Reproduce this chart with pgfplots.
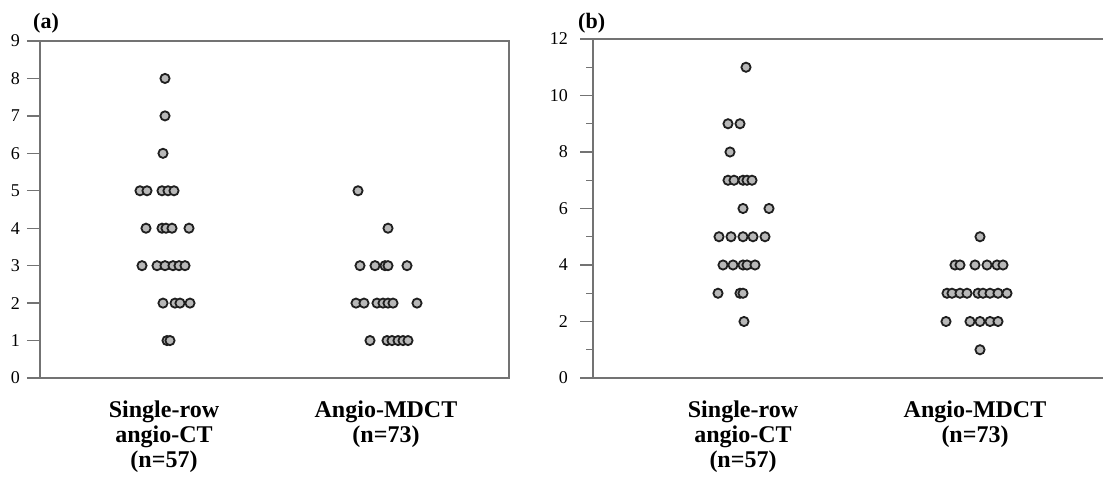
\documentclass[border=0pt]{standalone}
\usepackage{fontspec}
\setmainfont{Liberation Serif}
\usepackage{pgfplots}
\pgfplotsset{compat=1.18}
\definecolor{axisgray}{gray}{0.45}
\definecolor{dotfill}{gray}{0.72}
\definecolor{dotline}{gray}{0.12}

\pgfplotstableread{
x y
165 8
165 7
163 6
140 5
147 5
162 5
168 5
174 5
146 4
162 4
166 4
172 4
189 4
142 3
157 3
165 3
173 3
179 3
185 3
163 2
175 2
180 2
190 2
167 1
170 1
}\aSingle

\pgfplotstableread{
x y
358 5
388 4
360 3
375 3
385 3
388 3
407 3
356 2
364 2
377 2
383 2
388 2
393 2
417 2
370 1
387 1
392 1
398 1
403 1
408 1
}\aMDCT

\pgfplotstableread{
x y
746 11
728 9
740 9
730 8
728 7
734 7
743 7
747 7
752 7
743 6
769 6
719 5
731 5
743 5
753 5
765 5
723 4
733 4
743 4
747 4
755 4
718 3
740 3
743 3
744 2
}\bSingle

\pgfplotstableread{
x y
980 5
955 4
960 4
975 4
987 4
997 4
1003 4
947 3
952 3
960 3
967 3
978 3
983 3
990 3
998 3
1007 3
946 2
970 2
980 2
990 2
998 2
980 1
}\bMDCT

\begin{document}
\begin{tikzpicture}
\useasboundingbox (0,0) rectangle (1103pt,478pt);
\pgfplotsset{
  dotstyle/.style={only marks, mark=*, mark size=4.6pt,
    mark options={fill=dotfill, draw=dotline, line width=1.8pt}},
  panel/.style={
    scale only axis, anchor=south west, clip=false,
    axis line style={axisgray, line width=1.3pt},
    tick align=outside,
    major tick length=13pt, minor tick length=7pt,
    ytick pos=left,
    ytick style={axisgray, line width=1.3pt},
    xtick style={draw=none},
    /pgf/number format/assume math mode=true,
    yticklabel style={font=\fontsize{18}{18}\selectfont, inner sep=2pt},
    xticklabel style={font=\fontsize{24}{25}\selectfont\bfseries, align=center, yshift=-6pt},
    ymin=0,
  },
}
\begin{axis}[panel,
  at={(40pt,100pt)}, width=469pt, height=337pt,
  xmin=40, xmax=509, ymax=9, ytick={0,1,...,9},
  yticklabel style={xshift=-5pt},
  xtick={164,386},
  xticklabels={{Single-row\\angio-CT\\(n=57)},{Angio-MDCT\\(n=73)}},
]
\addplot[dotstyle] table {\aSingle};
\addplot[dotstyle] table {\aMDCT};
\node[anchor=south west, inner sep=0pt, font=\fontsize{22}{22}\selectfont\bfseries]
  at (rel axis cs:0,1) [xshift=-7pt, yshift=8pt] {(a)};
\end{axis}

\begin{axis}[panel,
  at={(593pt,100pt)}, width=510pt, height=339pt,
  axis y line*=left,
  yticklabel style={xshift=-10pt},
  xmin=593, xmax=1103, ymax=12, ytick={0,2,...,12}, minor ytick={1,3,...,11},
  xtick={743,975},
  xticklabels={{Single-row\\angio-CT\\(n=57)},{Angio-MDCT\\(n=73)}},
]
\addplot[dotstyle] table {\bSingle};
\addplot[dotstyle] table {\bMDCT};
\node[anchor=south west, inner sep=0pt, font=\fontsize{22}{22}\selectfont\bfseries]
  at (rel axis cs:0,1) [xshift=-15pt, yshift=6pt] {(b)};
\end{axis}
\end{tikzpicture}
\end{document}
